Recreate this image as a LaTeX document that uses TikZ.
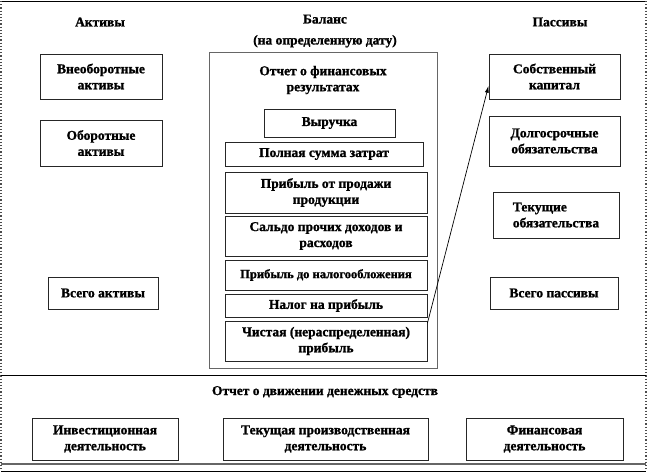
\documentclass[tikz,border=0pt]{standalone}
\usepackage{fontspec}
\setmainfont[BoldFeatures={FakeBold=1.2}]{Liberation Serif}
\usetikzlibrary{arrows.meta, positioning}
\tikzset{
    font=\fontsize{13.5}{16}\selectfont\bfseries,
    >=Latex,
    % Boxes
    box/.style={rectangle, draw=black!85, line width=0.9pt, align=center, inner sep=1pt},
    bigbox/.style={rectangle, draw=black!60, line width=1pt},
    head/.style={align=center, inner sep=1pt},
    % Frame
    frame/.style={black, line width=0.9pt},
    side/.style={black!70, line width=1.2pt, dotted},
    % Flow
    flow/.style={-{Latex[length=7pt,width=4pt]}, line width=0.7pt, black}
}

\begin{document}
\begin{tikzpicture}[x=1pt, y=-1pt]
\useasboundingbox (0,0) rectangle (648,472);

% outer frame
\draw[frame] (1,1) -- (646,1);
\draw[frame] (1,471) -- (646,471);
\draw[side] (1,1) -- (1,471);
\draw[side] (646,1) -- (646,471);

% headers
\node[head] (aktivy) at (100,22) {Активы};
\node[head] (balans) at (325,31) {Баланс\\[5pt](на определенную дату)};
\node[head] (passivy) at (560,22) {Пассивы};

% assets
\node[box, minimum width=122, minimum height=45] (vneob) at (101,76.5) {Внеоборотные\\активы};
\node[box, minimum width=122, minimum height=46] (obor) at (101,143) {Оборотные\\активы};
\node[box, minimum width=110, minimum height=32] (vsegoA) at (103,293) {Всего активы};

% income statement
\node[bigbox, minimum width=228, minimum height=316] (ofr) at (323,210) {};
\node[head] (ofrhead) at (323,80) {Отчет о финансовых\\результатах};
\node[box, minimum width=131, minimum height=28] (vyr) at (329.5,123) {Выручка};
\node[box, minimum width=198, minimum height=24] (zatr) at (324,154) {Полная сумма затрат};
\node[box, minimum width=202, minimum height=41] (prod) at (326,192.5) {Прибыль от продажи\\продукции};
\node[box, minimum width=202, minimum height=40] (saldo) at (326,236) {Сальдо прочих доходов и\\расходов};
\node[box, minimum width=202, minimum height=30, font=\fontsize{12.5}{14}\selectfont\bfseries] (donal) at (326,275) {Прибыль до налогообложения};
\node[box, minimum width=202, minimum height=23] (nalog) at (326,305.5) {Налог на прибыль};
\node[box, minimum width=202, minimum height=40] (chist) at (326,341) {Чистая (нераспределенная)\\прибыль};

% liabilities
\node[box, minimum width=131, minimum height=45] (kapital) at (554.5,76.5) {Собственный\\капитал};
\node[box, minimum width=131, minimum height=50] (dolg) at (554.5,141) {Долгосрочные\\обязательства};
\node[box, minimum width=126, minimum height=46, align=left] (tekob) at (556,215) {Текущие\\обязательства};
\node[box, minimum width=128, minimum height=32] (vsegoP) at (554,293) {Всего пассивы};

\draw[flow] (chist.10) -- (kapital.188);

% cash flow statement
\draw[frame] (1,375) -- (646,375);
\draw[black!60, line width=1.5pt] (1,464) -- (646,464);
\node[head] (odds) at (325,392) {Отчет о движении денежных средств};
\node[box, minimum width=146, minimum height=42] (invest) at (105,439) {Инвестиционная\\деятельность};
\node[box, minimum width=205, minimum height=42] (tekpr) at (325.5,439) {Текущая производственная\\деятельность};
\node[box, minimum width=157, minimum height=42] (finans) at (544.5,439) {Финансовая\\деятельность};

\end{tikzpicture}
\end{document}
